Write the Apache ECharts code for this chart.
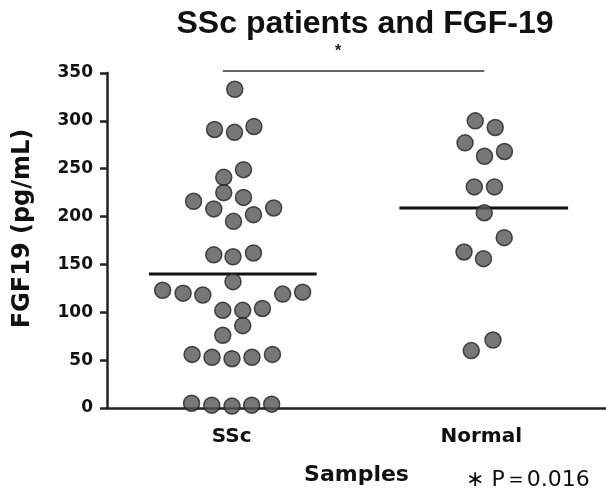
<!DOCTYPE html>
<html><head><meta charset="utf-8">
<script src="https://cdn.jsdelivr.net/npm/echarts@6/dist/echarts.min.js"></script>
<style>html,body{margin:0;padding:0;background:#fff}#c{width:606px;height:497px}</style>
</head><body><div id="c"></div>
<script>
const categories = ['SSc', 'Normal'];
const yTicks = [0, 50, 100, 150, 200, 250, 300, 350];
// FGF19 values (pg/mL)
const sscValues = [333, 291, 288, 294, 249, 241, 225, 216, 208, 220, 195, 202, 209, 160, 158, 162,
  132, 123, 120, 118, 119, 121, 102, 102, 104, 86, 76, 56, 53, 51.5, 53, 56, 5, 3, 2, 3, 4];
// horizontal scatter positions on a 0..2 axis (SSc centred at 0.5)
const sscX = [0.512, 0.431, 0.511, 0.589, 0.547, 0.468, 0.468, 0.347, 0.428, 0.547, 0.507, 0.587, 0.668,
  0.428, 0.505, 0.587, 0.505, 0.223, 0.305, 0.384, 0.704, 0.784, 0.464, 0.544, 0.623, 0.544, 0.464,
  0.341, 0.421, 0.501, 0.581, 0.663, 0.339, 0.42, 0.501, 0.58, 0.66];
const normalValues = [300, 293, 277, 263, 268, 231, 231, 204, 178, 163, 156, 71, 60];
const normalX = [1.476, 1.556, 1.435, 1.513, 1.593, 1.472, 1.553, 1.512, 1.592, 1.431, 1.509, 1.547, 1.46];
const meanValues = [140, 209];
const meanStart = [0.168, 1.172];
const meanEnd = [0.84, 1.848];
const sigValue = 352;
const sigFrom = 0.464, sigTo = 1.512;

const chart = echarts.init(document.getElementById('c'));
const fontA = 'Liberation Sans, Arial, sans-serif';
const fontD = 'DejaVu Sans, sans-serif';
const dot = {color: '#555', borderColor: '#222', borderWidth: 1.5};
chart.setOption({
  animation: false,
  title: {text: 'SSc patients and FGF-19', left: 360, top: 3, textAlign: 'center',
    textStyle: {fontFamily: fontA, fontWeight: 'bold', fontSize: 32, color: '#111'}},
  grid: {left: 107, right: 0, top: 73, bottom: 89, containLabel: false, outerBoundsMode: 'none'},
  xAxis: [
    {type: 'category', data: categories, boundaryGap: true,
      axisLine: {lineStyle: {color: '#222', width: 2.5}},
      axisTick: {alignWithLabel: true, length: 8, lineStyle: {color: '#222', width: 2.5}},
      axisLabel: {margin: 19, fontFamily: fontD, fontWeight: 'bold', fontSize: 20, color: '#111'},
      name: 'Samples', nameLocation: 'middle', nameGap: 56,
      nameTextStyle: {fontFamily: fontD, fontWeight: 'bold', fontSize: 22, color: '#111'}},
    {type: 'value', min: 0, max: 2, show: false}
  ],
  yAxis: {type: 'value', min: yTicks[0], max: yTicks[yTicks.length - 1], interval: 50,
    splitLine: {show: false},
    axisLine: {show: true, lineStyle: {color: '#222', width: 2.5}},
    axisTick: {show: true, length: 7, lineStyle: {color: '#222', width: 2.5}},
    axisLabel: {margin: 14, fontFamily: fontD, fontWeight: 'bold', fontSize: 17, color: '#111'},
    name: 'FGF19 (pg/mL)', nameLocation: 'middle', nameGap: 72, nameRotate: 90,
    nameTextStyle: {fontFamily: fontD, fontWeight: 'bold', fontSize: 24, color: '#111', padding: [0, 0, 0, 24]}},
  series: [
    {type: 'scatter', xAxisIndex: 1, symbolSize: 16, itemStyle: dot,
      data: sscValues.map((v, i) => [sscX[i], v]), z: 3},
    {type: 'scatter', xAxisIndex: 1, symbolSize: 16, itemStyle: dot,
      data: normalValues.map((v, i) => [normalX[i], v]), z: 3},
    ...meanValues.map((m, i) => ({type: 'line', xAxisIndex: 1, symbol: 'none', z: 2,
      lineStyle: {color: '#111', width: 3}, data: [[meanStart[i], m], [meanEnd[i], m]]})),
    {type: 'line', xAxisIndex: 1, symbol: 'none', clip: false,
      lineStyle: {color: '#333', width: 1.5}, data: [[sigFrom, sigValue], [sigTo, sigValue]]}
  ],
  graphic: [
    {type: 'text', left: 335, top: 44, style: {text: '*', font: 'bold 16px ' + fontA, fill: '#222'}},
    {type: 'text', left: 466, top: 469, style: {text: '\u2217 P\uFF1D0.016', font: '22px ' + fontD, fill: '#111'}}
  ]
});
</script></body></html>
